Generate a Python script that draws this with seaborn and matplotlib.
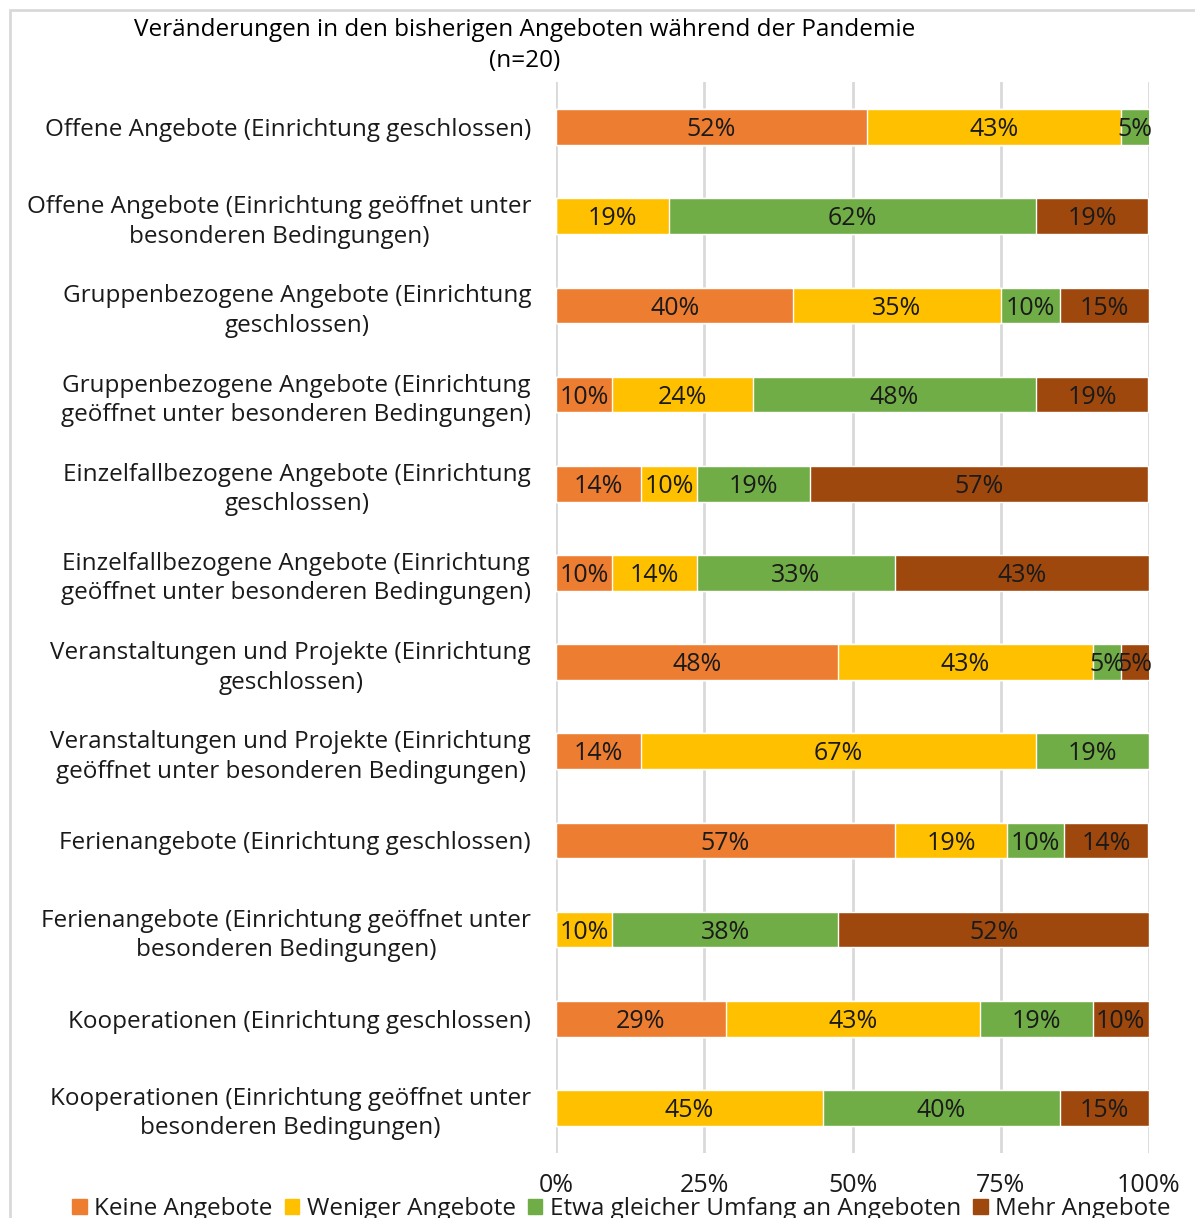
import matplotlib
matplotlib.use("Agg")
import matplotlib.pyplot as plt
import matplotlib.patches as mpatches
import seaborn as sns
import numpy as np
import pandas as pd

categories = [
    "Offene Angebote (Einrichtung geschlossen)",
    "Offene Angebote (Einrichtung geöffnet unter\nbesonderen Bedingungen)",
    "Gruppenbezogene Angebote (Einrichtung\ngeschlossen)",
    "Gruppenbezogene Angebote (Einrichtung\ngeöffnet unter besonderen Bedingungen)",
    "Einzelfallbezogene Angebote (Einrichtung\ngeschlossen)",
    "Einzelfallbezogene Angebote (Einrichtung\ngeöffnet unter besonderen Bedingungen)",
    "Veranstaltungen und Projekte (Einrichtung\ngeschlossen)",
    "Veranstaltungen und Projekte (Einrichtung\ngeöffnet unter besonderen Bedingungen)",
    "Ferienangebote (Einrichtung geschlossen)",
    "Ferienangebote (Einrichtung geöffnet unter\nbesonderen Bedingungen)",
    "Kooperationen (Einrichtung geschlossen)",
    "Kooperationen (Einrichtung geöffnet unter\nbesonderen Bedingungen)",
]
series = ["Keine Angebote", "Weniger Angebote",
          "Etwa gleicher Umfang an Angeboten", "Mehr Angebote"]
keine = [52.4, 0, 40, 9.5, 14.3, 9.5, 47.6, 14.3, 57.1, 0, 28.6, 0]
weniger = [42.9, 19.0, 35, 23.8, 9.5, 14.3, 42.9, 66.7, 19.0, 9.5, 42.9, 45]
gleich = [4.8, 61.9, 10, 47.6, 19.0, 33.3, 4.8, 19.0, 9.5, 38.1, 19.0, 40]
mehr = [0, 19.0, 15, 19.0, 57.1, 42.9, 4.8, 0, 14.3, 52.4, 9.5, 15]
colors = ["#ED7D31", "#FFC000", "#70AD47", "#9E480E"]

FONT = ["Open Sans", "DejaVu Sans"]

sns.set_theme(style="white")
plt.rcParams["font.family"] = FONT

vals = np.array([keine, weniger, gleich, mehr])
cum = vals.cumsum(axis=0)

fig = plt.figure(figsize=(11.95, 12.18), dpi=100)
ax = fig.add_axes([0.4653, 0.0537, 0.4962, 0.8786])

# stacked bars: draw the full stack first, then overlay the shorter partial sums
for i in range(3, -1, -1):
    df = pd.DataFrame({"cat": categories, "val": cum[i] / 100.0})
    sns.barplot(data=df, x="val", y="cat", color=colors[i], orient="h",
                width=0.40, saturation=1, ax=ax, zorder=3)

for i in range(4):
    for j, c in enumerate(categories):
        v = vals[i][j]
        if v <= 0:
            continue
        mid = (cum[i][j] - v / 2) / 100.0
        ax.text(mid, j + 0.03, f"{int(round(v))}%", ha="center", va="center",
                fontsize=18, color="#1a1a1a", zorder=5)

ax.set_xlim(0, 1)
ax.set_ylim(len(categories) - 0.5, -0.5)
ax.set_xticks([0, 0.25, 0.5, 0.75, 1.0])
ax.set_xticklabels(["0%", "25%", "50%", "75%", "100%"])
ax.tick_params(axis="x", length=0, pad=15, labelsize=18, labelcolor="#1a1a1a")
ax.tick_params(axis="y", length=0, pad=18, labelsize=17.5, labelcolor="#1a1a1a")
for lab in ax.get_yticklabels():
    lab.set_multialignment("center")
    lab.set_linespacing(1.3)
ax.set_xlabel("")
ax.set_ylabel("")
ax.grid(False)
for x in [0, 0.25, 0.5, 0.75, 1.0]:
    ax.axvline(x, color="#D9D9D9", lw=2, zorder=1)
for s in ax.spines.values():
    s.set_visible(False)

fig.text(525 / 1195, 1 - 30 / 1218,
         "Veränderungen in den bisherigen Angeboten während der Pandemie",
         ha="center", va="center", fontsize=17.5, color="black")
fig.text(525 / 1195, 1 - 61 / 1218, "(n=20)",
         ha="center", va="center", fontsize=17.5, color="black")

handles = [mpatches.Patch(color=colors[i], label=series[i]) for i in range(4)]
fig.legend(handles=handles, loc="center", bbox_to_anchor=(0.52, 1 - 1209 / 1218),
           ncol=4, frameon=False, fontsize=17.5, handlelength=0.6, handleheight=0.6,
           handletextpad=0.3, columnspacing=0.5, labelcolor="#1a1a1a",
           borderpad=0, borderaxespad=0)

frame = mpatches.Rectangle((10 / 1195, -0.05), 1.2, 1 - 10 / 1218 + 0.05,
                           transform=fig.transFigure, fill=False,
                           edgecolor="#D9D9D9", lw=2)
fig.patches.append(frame)

fig.savefig("out.png", dpi=100)
